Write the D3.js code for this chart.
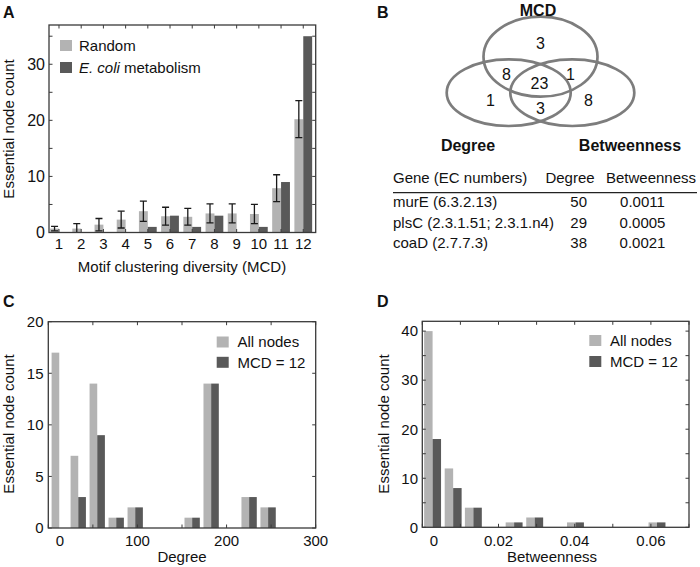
<!DOCTYPE html>
<html><head><meta charset="utf-8">
<script src="https://cdn.jsdelivr.net/npm/d3@7/dist/d3.min.js"></script>
<style>
body{margin:0;background:#fff}
text{font-family:"Liberation Sans",Arial,Helvetica,sans-serif;fill:#111}
</style>
</head><body>
<svg id="chart" width="700" height="567"></svg>
<script>
// ---------- DATA ----------
// Panel A
const mcdCategories = [1,2,3,4,5,6,7,8,9,10,11,12];
const randomCounts  = [0.7,0.7,1.4,2.3,3.8,2.9,2.8,3.4,3.4,3.3,7.9,20.2];
const randomErrors  = [0.4,0.9,1.1,1.5,1.8,1.6,1.5,1.7,1.7,1.7,2.4,3.3];
const ecoliCounts   = [0,0,0,0,1,3,1,3,0,1,9,35];
const yTicksA = [0,10,20,30];
const legendA = ["Random","metabolism"];
// Panel B
const vennSets = ["MCD","Degree","Betweenness"];
const vennRegions = ["mcdOnly","mcdDegree","all","mcdBetween","degreeOnly","degreeBetween","betweenOnly"];
const vennCounts  = [3,8,23,1,1,3,8];
const tableHeaders = ["Gene (EC numbers)","Degree","Betweenness"];
const geneNames   = ["murE (6.3.2.13)","plsC (2.3.1.51; 2.3.1.n4)","coaD (2.7.7.3)"];
const geneDegree  = ["50","29","38"];
const geneBetween = ["0.0011","0.0005","0.0021"];
// Panel C
const degreeBins      = [12.3,33.6,54.9,76.2,97.5,118.8,140.1,161.4,182.7,204.0,225.3,246.6];
const degreeAllNodes  = [17,7,14,1,2,0,0,1,14,0,3,2];
const degreeMcd12     = [0,3,9,1,2,0,0,1,14,0,3,2];
const xTicksC = [0,100,200,300];
// Panel D
const betweenBins     = [0.0027,0.0081,0.0134,0.0188,0.0241,0.0295,0.0348,0.0402,0.0455,0.0509,0.0562,0.0616];
const betweenAllNodes = [40,12,4,0,1,2,0,1,0,0,0,1];
const betweenMcd12    = [18,8,4,0,1,2,0,1,0,0,0,1];
const xTicksD = [0,0.02,0.04,0.06];
const legendCD = ["All nodes","MCD = 12"];

// ---------- STYLE ----------
const LIGHT = "#b3b3b3", DARK = "#595959", FRAME = "#3a3a3a";
const FS = 15;
const svg = d3.select("#chart");

function frame(g, x0, x1, y0, y1){
  g.append("rect").attr("x",x0).attr("y",y1).attr("width",x1-x0).attr("height",y0-y1)
    .attr("fill","none").attr("stroke",FRAME).attr("stroke-width",1.3);
}
function inTicks(g, xs, ys, xT, yT){
  const [x0,x1] = xs.range(), [y0,y1] = ys.range();
  const L = 3.5;
  xT.forEach(v=>{
    const x = xs(v);
    g.append("line").attr("x1",x).attr("x2",x).attr("y1",y0).attr("y2",y0-L).attr("stroke",FRAME);
    g.append("line").attr("x1",x).attr("x2",x).attr("y1",y1).attr("y2",y1+L).attr("stroke",FRAME);
  });
  yT.forEach(v=>{
    const y = ys(v);
    g.append("line").attr("x1",x0).attr("x2",x0+L).attr("y1",y).attr("y2",y).attr("stroke",FRAME);
    g.append("line").attr("x1",x1).attr("x2",x1-L).attr("y1",y).attr("y2",y).attr("stroke",FRAME);
  });
}
function clip(id, xs, ys){
  const [x0,x1] = xs.range(), [y0,y1] = ys.range();
  svg.append("clipPath").attr("id",id).append("rect")
    .attr("x",x0).attr("y",y1).attr("width",x1-x0).attr("height",y0-y1);
}
function panelLetter(t,x,y){
  svg.append("text").attr("x",x).attr("y",y).attr("font-size",16).attr("font-weight","bold").text(t);
}
function yTitle(x,y,t){
  svg.append("text").attr("transform",`translate(${x},${y}) rotate(-90)`)
    .attr("text-anchor","middle").attr("font-size",FS).text(t);
}
function legend(x, y, gap){
  [LIGHT,DARK].forEach((c,i)=>{
    svg.append("rect").attr("x",x).attr("y",y+i*gap).attr("width",12).attr("height",11).attr("fill",c);
  });
}

// ---------- PANEL A ----------
{
  const xA = d3.scaleLinear().domain([0.55,12.56]).range([49,315.7]);
  const yA = d3.scaleLinear().domain([0,37]).range([232.5,25]);
  const g = svg.append("g");
  clip("clipA", xA, yA);
  const bars = g.append("g").attr("clip-path","url(#clipA)");
  const w = 0.4;
  bars.selectAll(".ra").data(mcdCategories).join("rect")
    .attr("x",(d)=>xA(d-w)).attr("width",(d)=>xA(d)-xA(d-w))
    .attr("y",(d,i)=>yA(randomCounts[i])).attr("height",(d,i)=>yA(0)-yA(randomCounts[i]))
    .attr("fill",LIGHT);
  bars.selectAll(".ea").data(mcdCategories).join("rect")
    .attr("x",(d)=>xA(d)).attr("width",(d)=>xA(d+w)-xA(d))
    .attr("y",(d,i)=>yA(ecoliCounts[i])).attr("height",(d,i)=>yA(0)-yA(ecoliCounts[i]))
    .attr("fill",DARK);
  mcdCategories.forEach((d,i)=>{
    const cx = xA(d-w/2);
    const lo = Math.max(0, randomCounts[i]-randomErrors[i]), hi = randomCounts[i]+randomErrors[i];
    const eg = bars.append("g").attr("stroke","#1a1a1a").attr("stroke-width",1.3);
    eg.append("line").attr("x1",cx).attr("x2",cx).attr("y1",yA(lo)).attr("y2",yA(hi));
    eg.append("line").attr("x1",cx-3.5).attr("x2",cx+3.5).attr("y1",yA(hi)).attr("y2",yA(hi));
    if (randomCounts[i]-randomErrors[i] > 0)
      eg.append("line").attr("x1",cx-3.5).attr("x2",cx+3.5).attr("y1",yA(lo)).attr("y2",yA(lo));
  });
  frame(g, 49, 315.7, 232.5, 25);
  inTicks(g, xA, yA, mcdCategories, d3.range(0,36,5));
  g.selectAll(".xl").data(mcdCategories).join("text")
    .attr("x",d=>xA(d)).attr("y",248.5).attr("text-anchor","middle").attr("font-size",FS).text(d=>d);
  g.selectAll(".yl").data(yTicksA).join("text")
    .attr("x",45).attr("y",d=>yA(d)+5.5).attr("text-anchor","end").attr("font-size",16).text(d=>d);
  svg.append("text").attr("x",182).attr("y",272).attr("text-anchor","middle").attr("font-size",FS)
    .text("Motif clustering diversity (MCD)");
  yTitle(14,129,"Essential node count");
  legend(60,40,22);
  svg.append("text").attr("x",79).attr("y",50.5).attr("font-size",FS).text(legendA[0]);
  const t = svg.append("text").attr("x",79).attr("y",72.5).attr("font-size",FS);
  t.append("tspan").attr("font-style","italic").text("E. coli");
  t.append("tspan").text(" " + legendA[1]);
  panelLetter("A",3,18);
}

// ---------- PANEL B ----------
{
  const g = svg.append("g");
  const cx = 540.5;
  const ell = [
    {cx:cx, cy:56.7, rx:57, ry:40},
    {cx:cx-31.8, cy:92.7, rx:62, ry:33.3},
    {cx:cx+31.8, cy:92.7, rx:62, ry:33.3}
  ];
  g.selectAll("ellipse").data(ell).join("ellipse")
    .attr("cx",d=>d.cx).attr("cy",d=>d.cy).attr("rx",d=>d.rx).attr("ry",d=>d.ry)
    .attr("fill","none").attr("stroke","#7d7d7d").attr("stroke-width",2.7);
  const pos = [[0,43],[-34,74],[-1,83],[30,74],[-50,100],[0,108],[48,100]];
  vennCounts.forEach((v,i)=>{
    g.append("text").attr("x",cx+pos[i][0]).attr("y",pos[i][1]).attr("dy","0.36em")
      .attr("text-anchor","middle").attr("font-size",16).text(v);
  });
  const setPos = [[538,16],[468,151],[630,151]];
  vennSets.forEach((s,i)=>{
    g.append("text").attr("x",setPos[i][0]).attr("y",setPos[i][1]).attr("text-anchor","middle")
      .attr("font-size",16).attr("font-weight","bold").text(s);
  });
  const TF = 15;
  g.append("text").attr("x",393).attr("y",182.5).attr("font-size",TF).text(tableHeaders[0]);
  g.append("text").attr("x",570).attr("y",182.5).attr("text-anchor","middle").attr("font-size",TF).text(tableHeaders[1]);
  g.append("text").attr("x",651).attr("y",182.5).attr("text-anchor","middle").attr("font-size",TF).text(tableHeaders[2]);
  g.append("line").attr("x1",393).attr("x2",697).attr("y1",192.7).attr("y2",192.7).attr("stroke","#222").attr("stroke-width",1.3);
  const rowY = [207,227.5,248];
  geneNames.forEach((n,i)=>{
    g.append("text").attr("x",393).attr("y",rowY[i]).attr("font-size",TF).text(n);
    g.append("text").attr("x",587).attr("y",rowY[i]).attr("text-anchor","end").attr("font-size",TF).text(geneDegree[i]);
    g.append("text").attr("x",642.5).attr("y",rowY[i]).attr("text-anchor","middle").attr("font-size",TF).text(geneBetween[i]);
  });
  panelLetter("B",377,18);
}

// ---------- PANEL C ----------
{
  const xC = d3.scaleLinear().domain([0,300]).range([48.3,315.7]);
  const yC = d3.scaleLinear().domain([0,20]).range([528,321.7]);
  const g = svg.append("g");
  clip("clipC", xC, yC);
  const bars = g.append("g").attr("clip-path","url(#clipC)");
  const w = 8.6;
  bars.selectAll(".a").data(degreeBins).join("rect")
    .attr("x",d=>xC(d-w)).attr("width",d=>xC(d)-xC(d-w))
    .attr("y",(d,i)=>yC(degreeAllNodes[i])).attr("height",(d,i)=>yC(0)-yC(degreeAllNodes[i]))
    .attr("fill",LIGHT);
  bars.selectAll(".m").data(degreeBins).join("rect")
    .attr("x",d=>xC(d)).attr("width",d=>xC(d+w)-xC(d))
    .attr("y",(d,i)=>yC(degreeMcd12[i])).attr("height",(d,i)=>yC(0)-yC(degreeMcd12[i]))
    .attr("fill",DARK);
  frame(g, 48.3, 315.7, 528, 321.7);
  inTicks(g, xC, yC, d3.range(0,301,50), d3.range(0,21,5));
  g.selectAll(".xl").data(xTicksC).join("text")
    .attr("x",d=>xC(d)+(d===0?11.5:0)).attr("y",545.5).attr("text-anchor","middle").attr("font-size",FS).text(d=>d);
  g.selectAll(".yl").data(d3.range(0,21,5)).join("text")
    .attr("x",43.5).attr("y",d=>yC(d)+5.3).attr("text-anchor","end").attr("font-size",FS).text(d=>d);
  svg.append("text").attr("x",182).attr("y",562).attr("text-anchor","middle").attr("font-size",FS).text("Degree");
  yTitle(14,424,"Essential node count");
  legend(216.7,336.5,20.3);
  legendCD.forEach((t,i)=>svg.append("text").attr("x",237.5).attr("y",347.3+i*20.3).attr("font-size",FS).text(t));
  panelLetter("C",3,307);
}

// ---------- PANEL D ----------
{
  const xD = d3.scaleLinear().domain([0,0.07]).range([422.3,689]);
  const yD = d3.scaleLinear().domain([0,42]).range([527.3,321.3]);
  const g = svg.append("g");
  clip("clipD", xD, yD);
  const bars = g.append("g").attr("clip-path","url(#clipD)");
  const w = 0.00222;
  bars.selectAll(".a").data(betweenBins).join("rect")
    .attr("x",d=>xD(d-w)).attr("width",d=>xD(d)-xD(d-w))
    .attr("y",(d,i)=>yD(betweenAllNodes[i])).attr("height",(d,i)=>yD(0)-yD(betweenAllNodes[i]))
    .attr("fill",LIGHT);
  bars.selectAll(".m").data(betweenBins).join("rect")
    .attr("x",d=>xD(d)).attr("width",d=>xD(d+w)-xD(d))
    .attr("y",(d,i)=>yD(betweenMcd12[i])).attr("height",(d,i)=>yD(0)-yD(betweenMcd12[i]))
    .attr("fill",DARK);
  frame(g, 422.3, 689, 527.3, 321.3);
  inTicks(g, xD, yD, d3.range(0,8).map(i=>i*0.01), d3.range(0,41,5));
  g.selectAll(".xl").data(xTicksD).join("text")
    .attr("x",d=>xD(d)+(d===0?11.5:0)).attr("y",545.5).attr("text-anchor","middle").attr("font-size",FS).text(d=>d);
  g.selectAll(".yl").data(d3.range(0,41,10)).join("text")
    .attr("x",418).attr("y",d=>yD(d)+5.3).attr("text-anchor","end").attr("font-size",FS).text(d=>d);
  svg.append("text").attr("x",552).attr("y",562).attr("text-anchor","middle").attr("font-size",FS).text("Betweenness");
  yTitle(389,424,"Essential node count");
  legend(589.3,335,21);
  legendCD.forEach((t,i)=>svg.append("text").attr("x",610).attr("y",346+i*21).attr("font-size",FS).text(t));
  panelLetter("D",377,307);
}
</script>
</body></html>
